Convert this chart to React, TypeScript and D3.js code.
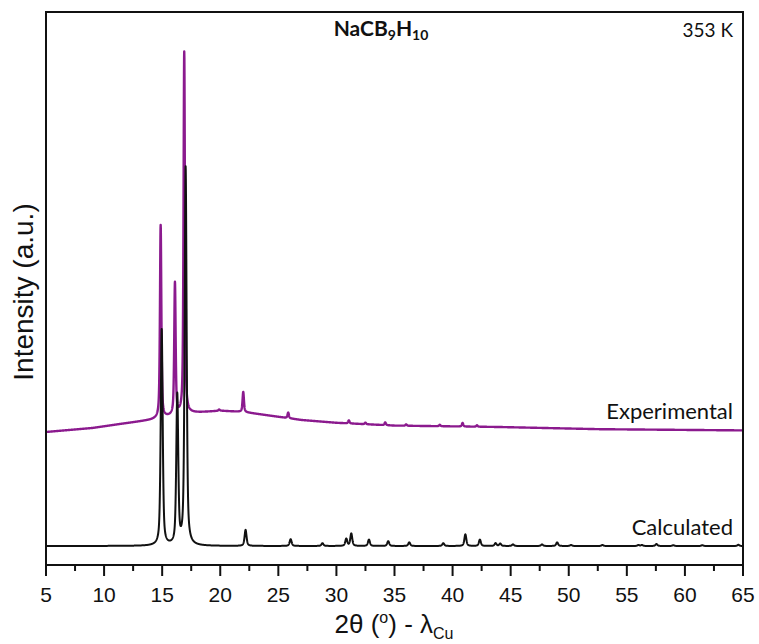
import React from "react";
import * as d3 from "d3";

// Calculated pattern: reflection positions (2θ, °) and peak heights (a.u.)
const calcPos = [14.96, 16.3, 17.02, 22.18, 26.06, 28.8, 30.85, 31.28, 32.8, 34.46, 36.27, 39.2, 41.1, 42.35, 43.7, 44.1, 45.2, 47.7, 49.0, 50.2, 52.9, 56.0, 56.3, 57.55, 59.0, 61.5, 64.6];
const calcHeight = [540, 372, 945, 40, 17, 7, 18, 31, 16, 12, 9, 7, 29, 16, 7, 6, 4, 4, 9, 2.5, 2.5, 2.5, 2.5, 5, 2, 2, 3];

// Experimental pattern: reflection positions and heights above background
const expPos = [14.87, 16.1, 16.9, 19.9, 21.98, 25.85, 31.07, 32.5, 34.2, 36.0, 38.9, 40.86, 42.1];
const expHeight = [482, 330, 905, 3, 50, 14, 7.5, 4, 7, 3.5, 3.5, 9, 3.5];

// Experimental background (amorphous hump) knots
const bgTheta = [5, 9, 11.4, 14, 17.4, 20, 22, 25, 27, 30, 35, 44, 52.7, 65];
const bgLevel = [285, 295, 305, 315, 332, 338, 335, 323, 315, 308, 301, 297.5, 292, 289];

const majorTicks = [5, 10, 15, 20, 25, 30, 35, 40, 45, 50, 55, 60, 65];
const minorTicks = [7.5, 12.5, 17.5, 22.5, 27.5, 32.5, 37.5, 42.5, 47.5, 52.5, 57.5, 62.5];

const W = 759;
const H = 644;
const left = 46;
const right = 743;
const top = 12;
const bottom = 565;

function pseudoVoigt(x: number, x0: number, fwhm: number, eta: number) {
  const t = (x - x0) / fwhm;
  const l = 1 / (1 + 4 * t * t);
  const g = Math.exp(-4 * Math.LN2 * t * t);
  return eta * l + (1 - eta) * g;
}

function pattern(pos: number[], hts: number[], fwhm: number, eta: number, bg: (x: number) => number) {
  const pts: [number, number][] = [];
  for (let i = 0; i <= 6000; i++) {
    const x = 5 + i * 0.01;
    let v = bg(x);
    for (let k = 0; k < pos.length; k++) v += hts[k] * pseudoVoigt(x, pos[k], fwhm, eta);
    pts.push([x, v]);
  }
  return pts;
}

export default function App() {
  const x = d3.scaleLinear().domain([5, 65]).range([left, right]);
  const y = d3.scaleLinear().domain([-47.5, 1335]).range([bottom, top]);

  const bgScale = d3.scaleLinear().domain(bgTheta).range(bgLevel);
  const calc = pattern(calcPos, calcHeight, 0.2, 0.55, () => 0);
  const expt = pattern(expPos, expHeight, 0.14, 0.6, (t) => bgScale(t));

  const line = d3
    .line<[number, number]>()
    .x((d) => x(d[0]))
    .y((d) => y(d[1]));

  const sans = "'Liberation Sans', Arial, sans-serif";
  const labelFont = "Lato, 'Open Sans', sans-serif";

  return (
    <svg width={W} height={H} style={{ position: "absolute", left: 0, top: 0, background: "#fff" }}>
      <defs>
        <clipPath id="plotArea">
          <rect x={left} y={top} width={right - left} height={bottom - top} />
        </clipPath>
      </defs>
      <g clipPath="url(#plotArea)">
        <path d={line(expt) || ""} fill="none" stroke="#8b1a8e" strokeWidth={2.4} strokeLinejoin="round" />
        <path d={line(calc) || ""} fill="none" stroke="#111" strokeWidth={2} strokeLinejoin="round" />
      </g>
      <rect x={left} y={top} width={right - left} height={bottom - top} fill="none" stroke="#111" strokeWidth={2} />

      {majorTicks.map((t) => (
        <g key={"M" + t}>
          <line x1={x(t)} x2={x(t)} y1={bottom} y2={bottom + 11} stroke="#111" strokeWidth={2} />
          <text x={x(t)} y={bottom + 37} textAnchor="middle" fontFamily={sans} fontSize={21} fill="#111">
            {t}
          </text>
        </g>
      ))}
      {minorTicks.map((t) => (
        <line key={"m" + t} x1={x(t)} x2={x(t)} y1={bottom} y2={bottom + 6} stroke="#111" strokeWidth={2} />
      ))}

      <text x={394} y={633} textAnchor="middle" fontFamily={sans} fontSize={26} fill="#111">
        2θ (<tspan fontSize={16} dy={-10}>o</tspan>
        <tspan dy={10}>) - λ</tspan>
        <tspan fontSize={16} dy={6}>Cu</tspan>
      </text>

      <text
        transform={`translate(33, 292) rotate(-90)`}
        textAnchor="middle"
        fontFamily={sans}
        fontSize={28}
        fill="#111"
      >
        Intensity (a.u.)
      </text>

      <text x={381} y={36} textAnchor="middle" fontFamily={labelFont} fontWeight="bold" fontSize={21} fill="#111">
        NaCB<tspan fontSize={14} dy={4}>9</tspan>
        <tspan dy={-4}>H</tspan>
        <tspan fontSize={14} dy={4}>10</tspan>
      </text>
      <text x={733} y={37} textAnchor="end" fontFamily={labelFont} fontSize={19} fill="#111">
        353 K
      </text>
      <text x={733} y={419} textAnchor="end" fontFamily={labelFont} fontSize={22} fill="#111">
        Experimental
      </text>
      <text x={733} y={535} textAnchor="end" fontFamily={labelFont} fontSize={22} fill="#111">
        Calculated
      </text>
    </svg>
  );
}
